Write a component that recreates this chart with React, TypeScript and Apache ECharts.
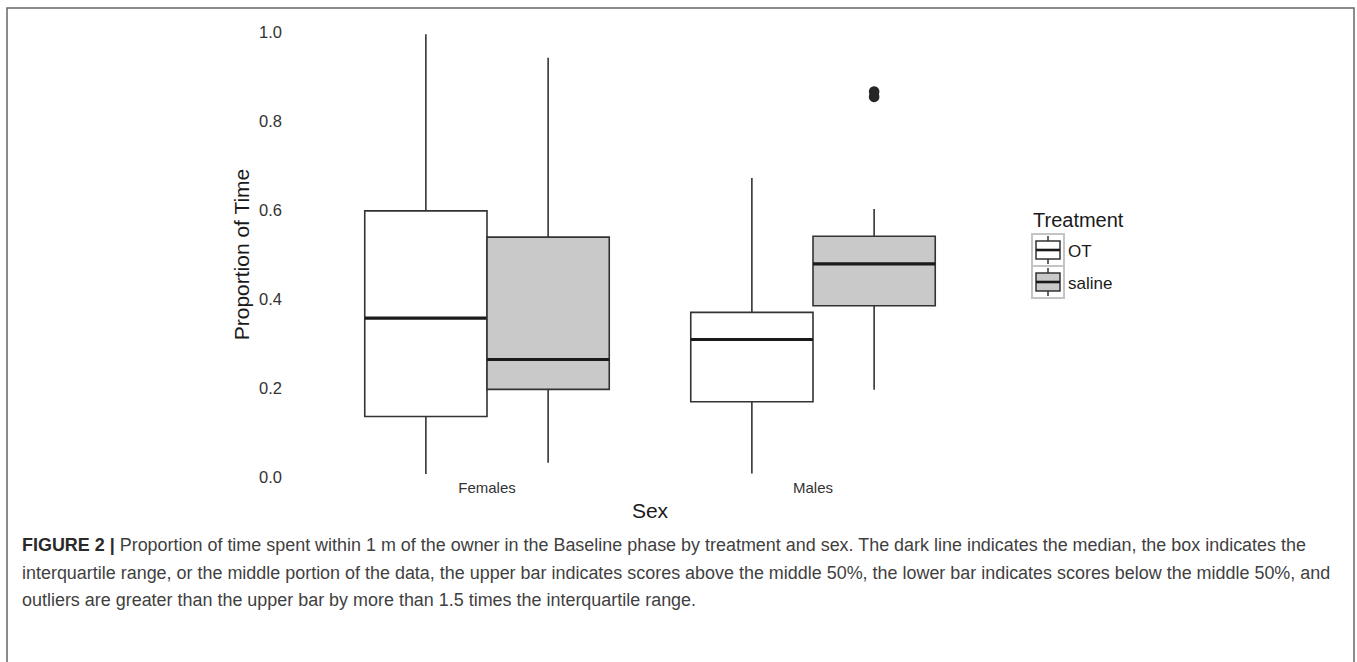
import React, { useEffect, useRef } from "react";
import * as echarts from "echarts";

const categories = ["Females", "Males"];
const treatments = ["OT", "saline"];
// [low whisker, Q1, median, Q3, high whisker] per category
const otStats = [
  [0.007, 0.136, 0.357, 0.598, 0.995],
  [0.008, 0.169, 0.309, 0.37, 0.672],
];
const salineStats = [
  [0.032, 0.197, 0.264, 0.539, 0.942],
  [0.196, 0.385, 0.479, 0.541, 0.602],
];
// [category index, value]
const otOutliers: number[][] = [];
const salineOutliers = [
  [1, 0.854],
  [1, 0.866],
];
const yTicks = [0, 0.2, 0.4, 0.6, 0.8, 1.0];

const captionLines = [
  "{b|FIGURE 2 |} Proportion of time spent within 1 m of the owner in the Baseline phase by treatment and sex. The dark line indicates the median, the box indicates the",
  "interquartile range, or the middle portion of the data, the upper bar indicates scores above the middle 50%, the lower bar indicates scores below the middle 50%, and",
  "outliers are greater than the upper bar by more than 1.5 times the interquartile range.",
];

const FONT = "'Liberation Sans', Arial, Helvetica, sans-serif";
const BOX_STROKE = "#333333";
const FILLS = ["#ffffff", "#c9c9c9"];
const DODGE = 0.1875;

function boxSeries(name: string, stats: number[][], idx: number) {
  const side = idx === 0 ? -1 : 1;
  return {
    type: "custom",
    name,
    data: stats.map((s, i) => [i, ...s]),
    encode: { x: 0, y: [1, 2, 3, 4, 5] },
    z: 2,
    renderItem: (params: any, api: any) => {
      const cat = api.value(0);
      const band = api.size([1, 0])[0];
      const half = DODGE * band;
      const pLow = api.coord([cat, api.value(1)]);
      const pQ1 = api.coord([cat, api.value(2)]);
      const pMed = api.coord([cat, api.value(3)]);
      const pQ3 = api.coord([cat, api.value(4)]);
      const pHigh = api.coord([cat, api.value(5)]);
      const cx = pLow[0] + side * half;
      const lineStyle = { stroke: BOX_STROKE, lineWidth: 1.6 };
      return {
        type: "group",
        children: [
          { type: "line", shape: { x1: cx, y1: pHigh[1], x2: cx, y2: pQ3[1] }, style: lineStyle },
          { type: "line", shape: { x1: cx, y1: pQ1[1], x2: cx, y2: pLow[1] }, style: lineStyle },
          {
            type: "rect",
            shape: { x: cx - half, y: pQ3[1], width: 2 * half, height: pQ1[1] - pQ3[1] },
            style: { fill: FILLS[idx], stroke: BOX_STROKE, lineWidth: 1.6 },
          },
          {
            type: "line",
            shape: { x1: cx - half, y1: pMed[1], x2: cx + half, y2: pMed[1] },
            style: { stroke: "#1a1a1a", lineWidth: 3.2 },
          },
        ],
      };
    },
  };
}

function outlierSeries(name: string, pts: number[][], idx: number) {
  const side = idx === 0 ? -1 : 1;
  return {
    type: "custom",
    name: name + " outliers",
    data: pts,
    encode: { x: 0, y: 1 },
    z: 3,
    renderItem: (params: any, api: any) => {
      const band = api.size([1, 0])[0];
      const p = api.coord([api.value(0), api.value(1)]);
      return {
        type: "circle",
        shape: { cx: p[0] + side * DODGE * band, cy: p[1], r: 5.3 },
        style: { fill: "#262626" },
      };
    },
  };
}

function legendGraphics() {
  const x0 = 1032;
  const y0 = 234;
  const k = 32;
  const els: any[] = [
    {
      type: "text",
      left: 1033,
      top: 210,
      style: { text: "Treatment", font: `20px ${FONT}`, fill: "#1a1a1a" },
    },
  ];
  treatments.forEach((t, i) => {
    const ty = y0 + i * k;
    const cx = x0 + k / 2;
    els.push({
      type: "rect",
      shape: { x: x0, y: ty, width: k, height: k },
      style: { fill: "#ffffff", stroke: "#c4c4c4", lineWidth: 2 },
    });
    els.push({
      type: "line",
      shape: { x1: cx, y1: ty + 2, x2: cx, y2: ty + k - 2 },
      style: { stroke: BOX_STROKE, lineWidth: 1.5 },
    });
    els.push({
      type: "rect",
      shape: { x: x0 + 4, y: ty + 7, width: k - 8, height: 18 },
      style: { fill: FILLS[i], stroke: BOX_STROKE, lineWidth: 1.5 },
    });
    els.push({
      type: "line",
      shape: { x1: x0 + 4, y1: ty + 16, x2: x0 + k - 4, y2: ty + 16 },
      style: { stroke: "#1a1a1a", lineWidth: 2.6 },
    });
    els.push({
      type: "text",
      x: 1068,
      y: ty + 17,
      style: {
        text: t,
        font: `17px ${FONT}`,
        fill: "#1a1a1a",
        verticalAlign: "middle",
        align: "left",
      },
    });
  });
  return els;
}

function captionGraphics() {
  return captionLines.map((line, i) => ({
    type: "text",
    x: 22,
    y: 545 + i * 27.5,
    style: {
      text: line,
      font: `17.95px ${FONT}`,
      fill: "#3f3f3f",
      verticalAlign: "middle",
      align: "left",
      rich: { b: { fontWeight: "bold", fontSize: 17.95, fontFamily: FONT, fill: "#2a2a2a" } },
    },
  }));
}

export default function App() {
  const ref = useRef<HTMLDivElement>(null);
  useEffect(() => {
    if (!ref.current) return;
    const chart = echarts.init(ref.current, null, { renderer: "svg" });
    chart.setOption({
      animation: false,
      backgroundColor: "#ffffff",
      grid: { left: 324, right: 381, top: 32, bottom: 185, containLabel: false },
      xAxis: {
        type: "category",
        data: categories,
        boundaryGap: true,
        name: "Sex",
        nameLocation: "middle",
        nameGap: 19,
        nameTextStyle: { fontSize: 21, fontFamily: FONT, color: "#1a1a1a" },
        axisLine: { show: false },
        axisTick: { show: false },
        splitLine: { show: false },
        axisLabel: { fontSize: 15, fontFamily: FONT, color: "#333333", margin: 3 },
      },
      yAxis: {
        type: "value",
        min: 0,
        max: 1,
        interval: 0.2,
        name: "Proportion of Time",
        nameLocation: "middle",
        nameGap: 72,
        nameRotate: 90,
        nameTextStyle: { fontSize: 21, fontFamily: FONT, color: "#1a1a1a" },
        axisLine: { show: false },
        axisTick: { show: false },
        splitLine: { show: false },
        axisLabel: {
          fontSize: 16.5,
          fontFamily: FONT,
          color: "#333333",
          margin: 42,
          formatter: (v: number) => (yTicks.some((t) => Math.abs(t - v) < 1e-9) ? v.toFixed(1) : ""),
        },
      },
      series: [
        boxSeries(treatments[0], otStats, 0),
        boxSeries(treatments[1], salineStats, 1),
        outlierSeries(treatments[0], otOutliers, 0),
        outlierSeries(treatments[1], salineOutliers, 1),
      ],
      graphic: [
        {
          type: "rect",
          shape: { x: 7, y: 8, width: 1347, height: 720 },
          style: { fill: "none", stroke: "#666666", lineWidth: 1.5 },
          silent: true,
        },
        ...legendGraphics(),
        ...captionGraphics(),
      ],
    });
    return () => chart.dispose();
  }, []);
  return (
    <div
      ref={ref}
      style={{ position: "fixed", left: 0, top: 0, width: 1357, height: 662, background: "#fff" }}
    />
  );
}
